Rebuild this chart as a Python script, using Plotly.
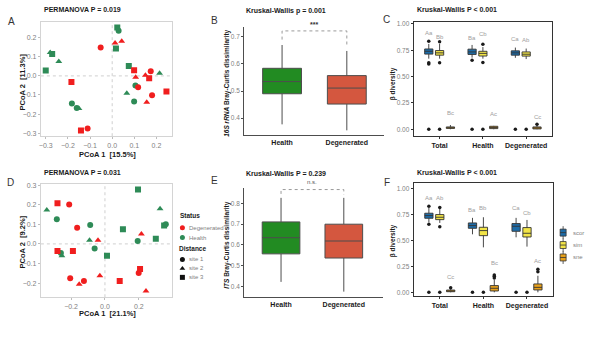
import plotly.graph_objects as go

W, H = 600, 337
FONT = "Liberation Sans, Arial, sans-serif"

# ---------------- data ----------------
# PCoA scores, 16S rRNA (panel A)
a_health_site1_x = [0.029, 0.105, 0.099, -0.182, -0.160]
a_health_site1_y = [0.237, -0.051, -0.134, -0.145, -0.168]
a_health_site2_x = [-0.280, -0.241, 0.214, 0.066, -0.150]
a_health_site2_y = [0.122, 0.075, 0.014, -0.091, -0.171]
a_health_site3_x = [-0.300, -0.271, 0.023, 0.017, 0.075]
a_health_site3_y = [0.028, 0.115, 0.254, 0.144, 0.052]
a_degen_site1_x = [-0.052, 0.117, 0.174, 0.180, -0.111]
a_degen_site1_y = [0.149, -0.060, 0.024, -0.101, -0.276]
a_degen_site2_x = [0.013, 0.043, 0.106, 0.150, 0.156]
a_degen_site2_y = [0.172, 0.181, -0.007, 0.003, -0.138]
a_degen_site3_x = [0.099, 0.167, 0.245, -0.184, -0.141]
a_degen_site3_y = [0.029, -0.013, -0.082, -0.032, -0.286]

# PCoA scores, ITS (panel D)
d_health_site1_x = [-0.284, -0.087, -0.061, -0.260, 0.193, 0.359]
d_health_site1_y = [0.126, 0.097, -0.024, -0.046, 0.015, 0.100]
d_health_site2_x = [-0.343, -0.091, -0.254, 0.325]
d_health_site2_y = [0.173, 0.019, -0.061, 0.179]
d_health_site3_x = [0.195, 0.012, 0.106, 0.300, 0.349]
d_health_site3_y = [0.277, -0.061, 0.075, 0.026, 0.094]
d_degen_site1_x = [-0.211, -0.164, -0.205, -0.124, 0.199]
d_degen_site1_y = [0.201, 0.082, -0.175, -0.189, -0.148]
d_degen_site2_x = [-0.041, -0.152, -0.030, 0.215, 0.242]
d_degen_site2_y = [0.019, -0.206, -0.162, 0.051, -0.240]
d_degen_site3_x = [-0.280, -0.280, -0.189, 0.087, 0.207]
d_degen_site3_y = [0.207, -0.036, -0.036, -0.189, -0.128]

# Bray-Curtis dissimilarity summaries (B: 16S rRNA, E: ITS)
status_groups = ["Health", "Degenerated"]
b_q1 = [0.490, 0.452]
b_median = [0.535, 0.511]
b_q3 = [0.584, 0.557]
b_lower = [0.377, 0.355]
b_upper = [0.670, 0.648]

e_q1 = [0.557, 0.537]
e_median = [0.635, 0.619]
e_q3 = [0.711, 0.700]
e_lower = [0.422, 0.375]
e_upper = [0.827, 0.827]

# beta-diversity partition (C: 16S rRNA, F: ITS)
part_groups = ["Total", "Health", "Degenerated"]
components = ["scor", "sim", "sne"]

c_scor_q1 = [0.713, 0.710, 0.703]
c_scor_median = [0.740, 0.734, 0.725]
c_scor_q3 = [0.762, 0.760, 0.744]
c_scor_lower = [0.670, 0.680, 0.678]
c_scor_upper = [0.810, 0.800, 0.775]
c_scor_outliers = [[0.0, 0.620, 0.630, 0.834], [0.0, 0.656], [0.0]]
c_sim_q1 = [0.703, 0.695, 0.694]
c_sim_median = [0.725, 0.720, 0.712]
c_sim_q3 = [0.747, 0.740, 0.734]
c_sim_lower = [0.670, 0.670, 0.666]
c_sim_upper = [0.810, 0.780, 0.766]
c_sim_outliers = [[0.0, 0.630, 0.830], [0.0, 0.634, 0.806], [0.0]]
c_sne_q1 = [0.008, 0.006, 0.003]
c_sne_median = [0.014, 0.016, 0.012]
c_sne_q3 = [0.022, 0.028, 0.022]
c_sne_lower = [0.0, 0.0, 0.0]
c_sne_upper = [0.040, 0.032, 0.040]
c_sne_outliers = [[], [], [0.047]]
c_scor_letters = ["Aa", "Ba", "Ca"]
c_sim_letters = ["Bb", "Cb", "Ab"]
c_sne_letters = ["Bc", "Ac", "Cc"]
c_scor_letter_y = [0.91, 0.87, 0.853]
c_sim_letter_y = [0.88, 0.90, 0.844]
c_sne_letter_y = [0.15, 0.14, 0.116]

f_scor_q1 = [0.716, 0.619, 0.590]
f_scor_median = [0.742, 0.645, 0.639]
f_scor_q3 = [0.765, 0.671, 0.665]
f_scor_lower = [0.677, 0.561, 0.532]
f_scor_upper = [0.816, 0.720, 0.720]
f_scor_outliers = [[0.0, 0.658, 0.832], [0.0], [0.0]]
f_sim_q1 = [0.703, 0.548, 0.535]
f_sim_median = [0.726, 0.597, 0.571]
f_sim_q3 = [0.752, 0.629, 0.626]
f_sim_lower = [0.671, 0.435, 0.442]
f_sim_upper = [0.806, 0.726, 0.700]
f_sim_outliers = [[0.0, 0.635, 0.820], [0.0], [0.0]]
f_sne_q1 = [0.006, 0.013, 0.023]
f_sne_median = [0.013, 0.039, 0.048]
f_sne_q3 = [0.022, 0.065, 0.081]
f_sne_lower = [0.0, 0.0, 0.0]
f_sne_upper = [0.030, 0.120, 0.160]
f_sne_outliers = [[0.045], [0.139, 0.155, 0.168], [0.200, 0.222]]
f_scor_letters = ["Aa", "Ba", "Ca"]
f_sim_letters = ["Ab", "Bb", "Cb"]
f_sne_letters = ["Cc", "Bc", "Ac"]
f_scor_letter_y = [0.913, 0.80, 0.816]
f_sim_letter_y = [0.913, 0.813, 0.768]
f_sne_letter_y = [0.152, 0.28, 0.30]

# ---------------- styles ----------------
STATUS_COLOR = {"Health": "#2e8b57", "Degenerated": "#f01e1e"}
SITE_SYMBOL = {"site 1": "circle", "site 2": "triangle-up", "site 3": "square"}
BOX_STATUS_COLOR = {"Health": "#228b22", "Degenerated": "#d4573f"}
COMP_COLOR = {"scor": "#1d6ca8", "sim": "#f2e447", "sne": "#e8a11a"}
COMP_OFFSET = {"scor": -0.25, "sim": 0.0, "sne": 0.25}
TICK_GRAY = "#7f7f7f"


def dom_x(p0, p1):
    return [p0 / W, p1 / W]


def dom_y(p0, p1):
    return [1 - p1 / H, 1 - p0 / H]


fig = go.Figure()

# ---------------- PCoA panels ----------------
pcoa_sets = {
    ("x", "y"): {
        ("Health", "site 1"): (a_health_site1_x, a_health_site1_y),
        ("Health", "site 2"): (a_health_site2_x, a_health_site2_y),
        ("Health", "site 3"): (a_health_site3_x, a_health_site3_y),
        ("Degenerated", "site 1"): (a_degen_site1_x, a_degen_site1_y),
        ("Degenerated", "site 2"): (a_degen_site2_x, a_degen_site2_y),
        ("Degenerated", "site 3"): (a_degen_site3_x, a_degen_site3_y),
    },
    ("x4", "y4"): {
        ("Health", "site 1"): (d_health_site1_x, d_health_site1_y),
        ("Health", "site 2"): (d_health_site2_x, d_health_site2_y),
        ("Health", "site 3"): (d_health_site3_x, d_health_site3_y),
        ("Degenerated", "site 1"): (d_degen_site1_x, d_degen_site1_y),
        ("Degenerated", "site 2"): (d_degen_site2_x, d_degen_site2_y),
        ("Degenerated", "site 3"): (d_degen_site3_x, d_degen_site3_y),
    },
}
for (xa, ya), sets in pcoa_sets.items():
    for (status, site), (xs, ys) in sets.items():
        fig.add_trace(go.Scatter(
            x=xs, y=ys, mode="markers", xaxis=xa, yaxis=ya, showlegend=False,
            marker=dict(symbol=SITE_SYMBOL[site], color=STATUS_COLOR[status], size=6,
                        line=dict(width=0)),
        ))

# ---------------- Bray-Curtis boxes ----------------
for xa, ya, q1, med, q3, lo, hi in [
    ("x2", "y2", b_q1, b_median, b_q3, b_lower, b_upper),
    ("x5", "y5", e_q1, e_median, e_q3, e_lower, e_upper),
]:
    for i, g in enumerate(status_groups):
        fig.add_trace(go.Box(
            x=[i], q1=[q1[i]], median=[med[i]], q3=[q3[i]],
            lowerfence=[lo[i]], upperfence=[hi[i]],
            width=0.6, whiskerwidth=0, boxpoints=False,
            fillcolor=BOX_STATUS_COLOR[g], line=dict(color="#4d4d4d", width=1),
            xaxis=xa, yaxis=ya, showlegend=False, hoverinfo="skip",
        ))

# ---------------- beta-diversity partition boxes ----------------
partition = {
    ("x3", "y3"): {
        "scor": (c_scor_q1, c_scor_median, c_scor_q3, c_scor_lower, c_scor_upper,
                 c_scor_outliers, c_scor_letters, c_scor_letter_y),
        "sim": (c_sim_q1, c_sim_median, c_sim_q3, c_sim_lower, c_sim_upper,
                c_sim_outliers, c_sim_letters, c_sim_letter_y),
        "sne": (c_sne_q1, c_sne_median, c_sne_q3, c_sne_lower, c_sne_upper,
                c_sne_outliers, c_sne_letters, c_sne_letter_y),
    },
    ("x6", "y6"): {
        "scor": (f_scor_q1, f_scor_median, f_scor_q3, f_scor_lower, f_scor_upper,
                 f_scor_outliers, f_scor_letters, f_scor_letter_y),
        "sim": (f_sim_q1, f_sim_median, f_sim_q3, f_sim_lower, f_sim_upper,
                f_sim_outliers, f_sim_letters, f_sim_letter_y),
        "sne": (f_sne_q1, f_sne_median, f_sne_q3, f_sne_lower, f_sne_upper,
                f_sne_outliers, f_sne_letters, f_sne_letter_y),
    },
}
annotations = []
for (xa, ya), comps in partition.items():
    for comp in components:
        q1, med, q3, lo, hi, outs, letters, letter_y = comps[comp]
        pos = [i + COMP_OFFSET[comp] for i in range(len(part_groups))]
        fig.add_trace(go.Box(
            x=pos, q1=q1, median=med, q3=q3, lowerfence=lo, upperfence=hi,
            width=0.19, whiskerwidth=0, boxpoints=False,
            fillcolor=COMP_COLOR[comp], line=dict(color="#333333", width=0.9),
            xaxis=xa, yaxis=ya, showlegend=False, hoverinfo="skip",
        ))
        ox, oy = [], []
        for p, vals in zip(pos, outs):
            ox += [p] * len(vals)
            oy += vals
        fig.add_trace(go.Scatter(
            x=ox, y=oy, mode="markers", xaxis=xa, yaxis=ya, showlegend=False,
            marker=dict(color="#1a1a1a", size=3.5), hoverinfo="skip",
        ))
        for p, t, ly in zip(pos, letters, letter_y):
            annotations.append(dict(x=p, y=ly, xref=xa, yref=ya, text=t, showarrow=False,
                                    font=dict(size=6, color="#a0a0a0")))

# ---------------- legend keys for panel D (pixel overlay) ----------------
status_keys = ["Degenerated", "Health"]
site_keys = ["site 1", "site 2", "site 3"]
fig.add_trace(go.Scatter(
    x=[181, 181], y=[227, 237], mode="markers", xaxis="x7", yaxis="y7", showlegend=False,
    marker=dict(color=[STATUS_COLOR[s] for s in status_keys], size=5, symbol="circle"),
    hoverinfo="skip",
))
fig.add_trace(go.Scatter(
    x=[181, 181, 181], y=[259, 268, 277], mode="markers", xaxis="x7", yaxis="y7",
    showlegend=False, hoverinfo="skip",
    marker=dict(color="#111111", size=5, symbol=[SITE_SYMBOL[s] for s in site_keys]),
))

# ---------------- axes ----------------
def pcoa_axis(domain, rng, tickvals, anchor):
    return dict(domain=domain, range=rng, anchor=anchor, tickvals=tickvals,
                tickformat=".1f", showline=True, mirror=True, linecolor="#d4d4d4",
                linewidth=1, ticks="outside", ticklen=2, tickcolor="#bdbdbd",
                tickfont=dict(size=7, color=TICK_GRAY), showgrid=False, zeroline=False)


def classic_y(domain, rng, tickvals, anchor):
    return dict(domain=domain, range=rng, anchor=anchor, tickvals=tickvals,
                ticktext=["%.1f" % v for v in tickvals], showline=True,
                linecolor="#4d4d4d", linewidth=1,
                ticks="outside", ticklen=2, tickcolor="#4d4d4d",
                tickfont=dict(size=6.5, color=TICK_GRAY), showgrid=False, zeroline=False)


def classic_x(domain, rng, anchor):
    return dict(domain=domain, range=rng, anchor=anchor, tickvals=[0, 1],
                ticktext=["<b>%s</b>" % g for g in status_groups],
                showline=True, linecolor="#4d4d4d", linewidth=1, ticks="",
                tickfont=dict(size=7, color="#1a1a1a"), showgrid=False, zeroline=False)


def part_x(domain, anchor):
    return dict(domain=domain, range=[-0.6, 2.6], anchor=anchor, tickvals=[0, 1, 2],
                ticktext=["<b>%s</b>" % g for g in part_groups], showline=True, mirror=True,
                linecolor="#333333", linewidth=1, ticks="outside", ticklen=2,
                tickcolor="#333333", tickfont=dict(size=7, color="#1a1a1a"),
                showgrid=False, zeroline=False)


def part_y(domain, rng, anchor):
    return dict(domain=domain, range=rng, anchor=anchor,
                tickvals=[0, 0.25, 0.5, 0.75, 1.0], tickformat=".2f", showline=True,
                mirror=True, linecolor="#333333", linewidth=1, ticks="outside", ticklen=2,
                tickcolor="#333333", tickfont=dict(size=6.5, color=TICK_GRAY),
                showgrid=False, zeroline=False)


fig.update_layout(
    xaxis=pcoa_axis(dom_x(39, 171), [-0.322, 0.272], [-0.3, -0.2, -0.1, 0, 0.1, 0.2], "y"),
    yaxis=pcoa_axis(dom_y(20, 135), [-0.316, 0.283], [-0.3, -0.2, -0.1, 0, 0.1, 0.2], "x"),
    xaxis2=classic_x(dom_x(243, 383), [-0.585, 1.57], "y2"),
    yaxis2=classic_y(dom_y(25, 134), [0.337, 0.737], [0.4, 0.5, 0.6, 0.7], "x2"),
    xaxis3=part_x(dom_x(413, 552), "y3"),
    yaxis3=part_y(dom_y(20, 135), [-0.066, 1.019], "x3"),
    xaxis4=pcoa_axis(dom_x(39, 171), [-0.378, 0.398], [-0.2, 0, 0.2], "y4"),
    yaxis4=pcoa_axis(dom_y(183, 297), [-0.272, 0.306], [-0.2, -0.1, 0, 0.1, 0.2, 0.3], "x4"),
    xaxis5=classic_x(dom_x(243, 382), [-0.587, 1.62], "y5"),
    yaxis5=classic_y(dom_y(187, 297), [0.348, 0.875], [0.4, 0.5, 0.6, 0.7, 0.8], "x5"),
    xaxis6=part_x(dom_x(413, 553), "y6"),
    yaxis6=part_y(dom_y(182, 296), [-0.038, 1.058], "x6"),
    xaxis7=dict(domain=[0, 1], range=[0, W], anchor="y7", visible=False, fixedrange=True),
    yaxis7=dict(domain=[0, 1], range=[H, 0], anchor="x7", visible=False, fixedrange=True),
)

# ---------------- reference lines / brackets ----------------
shapes = []
for xa, ya in [("x", "y"), ("x4", "y4")]:
    shapes.append(dict(type="line", xref=xa, yref=ya + " domain", x0=0, x1=0, y0=0, y1=1,
                       line=dict(color="#cfcfcf", width=1, dash="dot"), layer="below"))
    shapes.append(dict(type="line", xref=xa + " domain", yref=ya, x0=0, x1=1, y0=0, y1=0,
                       line=dict(color="#cfcfcf", width=1, dash="dot"), layer="below"))
# significance brackets
shapes.append(dict(type="path", xref="x2", yref="y2",
                   path="M 0,0.690 L 0,0.722 L 1,0.722 L 1,0.665",
                   line=dict(color="#9a9a9a", width=1, dash="dot")))
shapes.append(dict(type="path", xref="x5", yref="y5",
                   path="M 0,0.846 L 0,0.867 L 1,0.867 L 1,0.842",
                   line=dict(color="#9a9a9a", width=1, dash="dot")))

# legend keys for panel F
for comp, yc in zip(components, [232, 244.5, 257]):
    shapes.append(dict(type="line", xref="x7", yref="y7", x0=563, x1=563, y0=yc - 6.5,
                       y1=yc + 6.5, line=dict(color="#333333", width=0.8)))
    shapes.append(dict(type="rect", xref="x7", yref="y7", x0=560, x1=566, y0=yc - 3.5,
                       y1=yc + 3.5, fillcolor=COMP_COLOR[comp],
                       line=dict(color="#333333", width=0.8)))
    shapes.append(dict(type="line", xref="x7", yref="y7", x0=560, x1=566, y0=yc, y1=yc,
                       line=dict(color="#333333", width=0.8)))


def px_text(x, y, text, size=7, color="#1a1a1a", anchor="left", angle=0):
    return dict(x=x, y=y, xref="x7", yref="y7", text=text, showarrow=False,
                xanchor=anchor, yanchor="middle", textangle=angle,
                font=dict(size=size, color=color, family=FONT))


# panel letters
for letter, (lx, ly) in zip("ABCDEF", [(10, 20), (213, 19), (386, 18),
                                      (9, 182), (213, 180), (386, 182)]):
    annotations.append(px_text(lx, ly, letter, size=10, color="#333333", anchor="center"))

# panel titles
annotations += [
    px_text(40, 8, "<b>PERMANOVA P = 0.019</b>"),
    px_text(243, 9, "<b>Kruskal-Wallis p = 0.001</b>"),
    px_text(414, 8, "<b>Kruskal-Wallis P < 0.001</b>"),
    px_text(40, 172, "<b>PERMANOVA P = 0.031</b>"),
    px_text(243, 173, "<b>Kruskal-Wallis P = 0.239</b>"),
    px_text(414, 172, "<b>Kruskal-Wallis P < 0.001</b>"),
]

# axis titles
annotations += [
    px_text(106, 153, "<b>PCoA 1  [15.5%]</b>", size=7.5, anchor="center"),
    px_text(21, 80, "<b>PCoA 2  [11.3%]</b>", size=7.5, anchor="center", angle=-90),
    px_text(106, 313, "<b>PCoA 1  [21.1%]</b>", size=7.5, anchor="center"),
    px_text(21, 241, "<b>PCoA 2  [9.2%]</b>", size=7.5, anchor="center", angle=-90),
    px_text(225, 82, "<b><i>16S rRNA</i> Bray-Curtis dissimilarity</b>", size=6.5,
            anchor="center", angle=-90),
    px_text(225, 245, "<b><i>ITS</i> Bray-Curtis dissimilarity</b>", size=6.5,
            anchor="center", angle=-90),
    px_text(392, 82, "<b>β diversity</b>", size=6.5, anchor="center", angle=-90),
    px_text(392, 240, "<b>β diversity</b>", size=6.5, anchor="center", angle=-90),
]

# significance marks
annotations.append(dict(x=0.5, y=23, xref="x2", yref="y7", text="<b>***</b>",
                        showarrow=False, font=dict(size=7, color="#333333")))
annotations.append(dict(x=0.5, y=181, xref="x5", yref="y7", text="n.s.",
                        showarrow=False, font=dict(size=6, color="#555555")))

# legend text for panel D
annotations += [
    px_text(177, 215, "<b>Status</b>", size=6.5),
    px_text(186, 227, status_keys[0], size=6, color=TICK_GRAY),
    px_text(186, 237, status_keys[1], size=6, color=TICK_GRAY),
    px_text(176, 248, "<b>Distance</b>", size=6.5),
    px_text(186, 259, site_keys[0], size=6, color=TICK_GRAY),
    px_text(186, 268, site_keys[1], size=6, color=TICK_GRAY),
    px_text(186, 277, site_keys[2], size=6, color=TICK_GRAY),
]
# legend text for panel F
for comp, yc in zip(components, [232, 244.5, 257]):
    annotations.append(px_text(571, yc, comp, size=6, color=TICK_GRAY))

fig.update_layout(
    width=W, height=H, margin=dict(l=0, r=0, t=0, b=0),
    paper_bgcolor="white", plot_bgcolor="rgba(0,0,0,0)",
    font=dict(family=FONT, size=7, color="#1a1a1a"),
    showlegend=False, shapes=shapes, annotations=annotations,
)

fig.write_html("out.html")
